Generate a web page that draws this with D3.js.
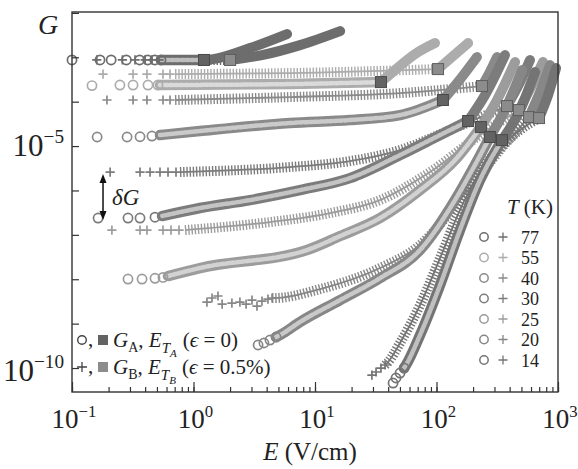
<!DOCTYPE html>
<html>
<head>
<meta charset="utf-8">
<script src="https://cdn.jsdelivr.net/npm/d3@7"></script>
<style>
  body { margin: 0; background: #fff; }
  svg text { font-family: "Liberation Serif", "Times New Roman", Times, serif; fill: #222; }
</style>
</head>
<body>
<svg width="578" height="469"></svg>
<script>
// temperatures, one shade per temperature
const temps = [77, 55, 40, 30, 25, 20, 14];
const shade = ["#6d6d6d", "#acacac", "#8a8a8a", "#7c7c7c", "#9c9c9c", "#878787", "#747474"];

// G_A (circles), [E (V/cm), G]
const markA = [
  [[0.10, 8.7e-4], [0.17, 8.7e-4], [0.21, 8.7e-4], [0.28, 8.7e-4], [0.36, 8.7e-4], [0.42, 8.7e-4], [0.48, 8.7e-4], [0.54, 8.7e-4]],
  [[0.146, 2.3e-4], [0.248, 2.37e-4], [0.318, 2.37e-4], [0.422, 2.37e-4], [0.51, 2.37e-4]],
  [[0.161, 1.6e-5], [0.284, 1.6e-5], [0.363, 1.62e-5], [0.455, 1.68e-5]],
  [[0.164, 2.39e-7], [0.289, 2.39e-7], [0.363, 2.39e-7], [0.482, 2.5e-7]],
  [[0.289, 1.01e-8], [0.377, 1.01e-8], [0.482, 1.05e-8], [0.561, 1.1e-8]],
  [[3.40, 3.3e-10], [3.80, 3.66e-10], [4.26, 4.27e-10], [4.78, 4.99e-10]],
  [[43.9, 4.59e-11], [46.4, 5.96e-11], [50.1, 7.7e-11], [54.1, 1.0e-10]]
];
const bandA = [
  [[0.54, 8.7e-4], [0.85, 8.7e-4], [1.22, 8.7e-4]],
  [[0.53, 2.37e-4], [6.23, 2.49e-4], [34.9, 2.76e-4]],
  [[0.53, 1.77e-5], [1.13, 2.18e-5], [6.23, 3.3e-5], [19.4, 3.86e-5], [50.1, 4.99e-5], [113, 1.09e-4]],
  [[0.551, 2.65e-7], [1.13, 4.02e-7], [2.92, 6.08e-7], [7.53, 1.02e-6], [19.4, 1.9e-6], [50.1, 6.27e-6], [107, 1.77e-5], [182, 3.66e-5]],
  [[0.617, 1.18e-8], [1.13, 1.79e-8], [8.6, 4.55e-8], [16.1, 9.4e-8], [34.3, 2.39e-7], [73.2, 1.02e-6], [142, 4.84e-6], [232, 2.68e-5]],
  [[4.78, 4.99e-10], [5.15, 5.53e-10], [7.53, 1.09e-9], [16.1, 3.4e-9], [34.3, 1.06e-8], [73.2, 4.55e-8], [142, 6.08e-7], [207, 3.73e-6], [275, 1.6e-5]],
  [[54.1, 1.0e-10], [56.1, 1.17e-10], [73.2, 5.53e-10], [107, 7.4e-9], [156, 1.28e-7], [228, 1.71e-6], [346, 1.36e-5]]
];
const thrA = [[1.22, 8.7e-4], [34.9, 2.76e-4], [113, 1.09e-4], [182, 3.66e-5], [232, 2.68e-5], [275, 1.6e-5], [346, 1.36e-5]];
const postA = [
  [[1.22, 8.7e-4], [1.45, 9.1e-4], [2.92, 1.61e-3], [5.89, 3.33e-3]],
  [[34.9, 2.76e-4], [45.5, 5.15e-4], [66.5, 1.18e-3], [97.2, 2.09e-3]],
  [[113, 1.09e-4], [150, 2.76e-4], [215, 1.01e-3]],
  [[182, 3.66e-5], [251, 1.41e-4], [366, 1.12e-3]],
  [[232, 2.68e-5], [315, 1.09e-4], [443, 7.8e-4]],
  [[275, 1.6e-5], [366, 6.47e-5], [506, 5.15e-4]],
  [[346, 1.36e-5], [487, 6.47e-5], [647, 4.65e-4]]
];

// G_B (plus)
const markB = [
  [[0.16, 8.7e-4], [0.26, 8.7e-4], [0.33, 8.7e-4], [0.40, 8.7e-4], [0.455, 8.7e-4], [0.52, 8.7e-4]],
  [[0.18, 4.19e-4], [0.318, 4.19e-4], [0.414, 4.19e-4], [0.561, 4.19e-4], [0.641, 4.19e-4]],
  [[0.194, 1.09e-4], [0.318, 1.09e-4], [0.414, 1.09e-4], [0.561, 1.09e-4], [0.641, 1.09e-4]],
  [[0.206, 2.6e-6], [0.363, 2.6e-6], [0.439, 2.6e-6], [0.53, 2.6e-6], [0.617, 2.6e-6], [0.718, 2.6e-6]],
  [[0.213, 1.28e-7], [0.363, 1.28e-7], [0.414, 1.28e-7], [0.561, 1.28e-7], [0.653, 1.28e-7], [0.76, 1.28e-7]],
  [[1.29, 3.06e-9], [1.42, 3.78e-9], [1.59, 4.19e-9], [1.72, 2.76e-9], [2.07, 2.91e-9], [2.41, 3.06e-9], [2.71, 2.76e-9], [3.03, 3.4e-9], [3.33, 2.49e-9], [3.66, 3.23e-9], [4.10, 3.58e-9], [4.43, 3.78e-9]],
  [[29.4, 6.95e-11], [31.8, 8.13e-11], [34.9, 1.0e-10], [37.7, 1.17e-10]]
];
const bandB = [
  [[0.52, 8.7e-4], [1.13, 8.7e-4], [2.0, 8.7e-4]],
  [[0.705, 4.19e-4], [6.23, 4.41e-4], [103, 5.42e-4]],
  [[0.705, 1.09e-4], [6.23, 1.27e-4], [50.1, 1.56e-4], [237, 2.25e-4]],
  [[0.774, 2.6e-6], [6.23, 3.37e-6], [19.4, 4.59e-6], [50.1, 8.13e-6], [129, 2.29e-5], [380, 7.96e-5]],
  [[0.851, 1.28e-7], [4.26, 1.94e-7], [13.3, 3.1e-7], [34.3, 6.08e-7], [88.4, 2.6e-6], [228, 1.77e-5], [477, 6.47e-5]],
  [[4.43, 3.78e-9], [4.69, 3.78e-9], [11.0, 6.0e-9], [34.3, 1.79e-8], [73.2, 5.89e-8], [156, 6.08e-7], [333, 8.13e-6], [577, 4.5e-5]],
  [[37.7, 1.17e-10], [39.9, 1.36e-10], [50.1, 3.66e-10], [73.2, 2.62e-9], [107, 3.0e-8], [156, 3.62e-7], [228, 2.6e-6], [333, 9.0e-6], [487, 2.29e-5], [698, 4.27e-5]]
];
const thrB = [[2.0, 8.7e-4], [103, 5.42e-4], [237, 2.25e-4], [380, 7.96e-5], [477, 6.47e-5], [577, 4.5e-5], [698, 4.27e-5]];
const postB = [
  [[2.0, 8.7e-4], [3.66, 1.12e-3], [7.53, 1.88e-3], [16.1, 3.89e-3]],
  [[103, 5.42e-4], [134, 1.01e-3], [182, 2.09e-3]],
  [[237, 2.25e-4], [275, 4.65e-4], [315, 1.01e-3]],
  [[380, 7.96e-5], [487, 2.76e-4], [588, 8.65e-4]],
  [[477, 6.47e-5], [611, 2.37e-4], [753, 7.8e-4]],
  [[577, 4.5e-5], [711, 1.64e-4], [860, 6.67e-4]],
  [[698, 4.27e-5], [828, 1.41e-4], [964, 5.71e-4]]
];

const xTickExp = ["−1", "0", "1", "2", "3"];

var svg = d3.select('svg');

var x = d3.scaleLog().domain([0.1, 1000]).range([72, 558]);
var y = d3.scaleLog().domain([Math.pow(10, -10.54), Math.pow(10, -1.98)]).range([392, 12]);

var line = d3.line()
    .x(d => x(d[0]))
    .y(d => y(d[1]))
    .curve(d3.curveMonotoneX);

var plot = svg.append('g');

// dense parts of the sweeps
temps.forEach((t, i) => {
    var c = shade[i];
    var pale = d3.interpolateRgb(c, '#fff')(0.55);

    plot.append('path').attr('d', line(bandB[i]))
        .attr('fill', 'none').attr('stroke', c)
        .attr('stroke-width', 10).attr('stroke-dasharray', '1.4 1.8');
    plot.append('path').attr('d', line(bandB[i]))
        .attr('fill', 'none').attr('stroke', c).attr('stroke-width', 1.8);

    plot.append('path').attr('d', line(bandA[i]))
        .attr('fill', 'none').attr('stroke', c)
        .attr('stroke-width', 10.5).attr('stroke-linecap', 'round');
    plot.append('path').attr('d', line(bandA[i]))
        .attr('fill', 'none').attr('stroke', pale)
        .attr('stroke-width', 4.5).attr('stroke-linecap', 'round')
        .attr('stroke-dasharray', '3 2');
});

// above threshold
temps.forEach((t, i) => {
    [postA[i], postB[i]].forEach(p => {
        plot.append('path').attr('d', line(p))
            .attr('fill', 'none').attr('stroke', shade[i])
            .attr('stroke-width', 10).attr('stroke-linecap', 'round');
    });
});

// sparse markers
temps.forEach((t, i) => {
    plot.selectAll(null).data(markA[i]).enter()
        .append('circle')
        .attr('cx', d => x(d[0]))
        .attr('cy', d => y(d[1]))
        .attr('r', 4.6)
        .attr('fill', 'none')
        .attr('stroke', shade[i])
        .attr('stroke-width', 1.7);
    plot.selectAll(null).data(markB[i]).enter()
        .append('path')
        .attr('transform', d => `translate(${x(d[0])},${y(d[1])})`)
        .attr('d', 'M-4.6,0H4.6M0,-4.6V4.6')
        .attr('stroke', shade[i])
        .attr('stroke-width', 1.7);
});

// thresholds E_T
plot.selectAll('.thrA').data(thrA).enter()
    .append('rect')
    .attr('x', d => x(d[0]) - 5.5).attr('y', d => y(d[1]) - 5.5)
    .attr('width', 11).attr('height', 11)
    .attr('fill', '#636363').attr('stroke', '#4a4a4a').attr('stroke-width', 1);
plot.selectAll('.thrB').data(thrB).enter()
    .append('rect')
    .attr('x', d => x(d[0]) - 5.5).attr('y', d => y(d[1]) - 5.5)
    .attr('width', 11).attr('height', 11)
    .attr('fill', '#8c8c8c').attr('stroke', '#5e5e5e').attr('stroke-width', 1);

// axes
var xAxis = d3.axisBottom(x).tickValues(x.ticks()).tickSize(-5).tickFormat('');
svg.append('g').attr('transform', 'translate(0,392)').call(xAxis)
    .call(g => g.select('.domain').remove());
var xAxisMajor = d3.axisBottom(x).tickValues([0.1, 1, 10, 100, 1000]).tickSize(-10).tickFormat('');
svg.append('g').attr('transform', 'translate(0,392)').call(xAxisMajor)
    .call(g => g.select('.domain').remove());

var yAxis = d3.axisLeft(y).tickValues(d3.range(-10, -1).map(k => Math.pow(10, k))).tickSize(-7).tickFormat('');
svg.append('g').attr('transform', 'translate(72,0)').call(yAxis)
    .call(g => g.select('.domain').remove());

svg.selectAll('.tick line').attr('stroke', '#333').attr('stroke-width', 1.2);

svg.append('rect')
    .attr('x', 72).attr('y', 12).attr('width', 486).attr('height', 380)
    .attr('fill', 'none').attr('stroke', '#333').attr('stroke-width', 1.4);

function pow10(sel, exp, fs) {
    sel.append('tspan').text('10');
    sel.append('tspan').attr('dy', -fs * 0.42).attr('font-size', fs * 0.62).text(exp);
}

[0.1, 1, 10, 100, 1000].forEach((v, i) => {
    svg.append('text')
        .attr('x', x(v) + 2).attr('y', 428)
        .attr('text-anchor', 'middle')
        .style('font-size', '27px')
        .call(pow10, xTickExp[i], 27);
});

[[-5, '−5', 156], [-10, '−10', 381]].forEach(d => {
    svg.append('text')
        .attr('x', 64).attr('y', d[2])
        .attr('text-anchor', 'end')
        .style('font-size', '31px')
        .call(pow10, d[1], 31);
});

// axis titles
var xt = svg.append('text').attr('x', 310).attr('y', 460)
    .attr('text-anchor', 'middle').style('font-size', '25px');
xt.append('tspan').style('font-style', 'italic').text('E');
xt.append('tspan').text(' (V/cm)');

svg.append('text').attr('x', 38).attr('y', 34)
    .style('font-size', '28px').style('font-style', 'italic').text('G');

// delta G arrow
var ax = x(0.18), ay1 = y(markB[3][0][1]) + 2, ay2 = y(markA[3][0][1]) + 2;
svg.append('line').attr('x1', ax).attr('x2', ax).attr('y1', ay1 + 4).attr('y2', ay2 - 4)
    .attr('stroke', '#111').attr('stroke-width', 1.5);
svg.append('path').attr('d', `M${ax},${ay1}l-3.5,9h7z`).attr('fill', '#111');
svg.append('path').attr('d', `M${ax},${ay2}l-3.5,-9h7z`).attr('fill', '#111');
svg.append('text').attr('x', 112).attr('y', 205)
    .style('font-size', '23px').style('font-style', 'italic').text('δG');

// temperature legend
svg.append('text').attr('x', 553).attr('y', 214).attr('text-anchor', 'end')
    .style('font-size', '21px')
    .call(s => {
        s.append('tspan').style('font-style', 'italic').text('T');
        s.append('tspan').text(' (K)');
    });
temps.forEach((t, i) => {
    var ly = 237 + i * 20.5;
    svg.append('circle').attr('cx', 484).attr('cy', ly).attr('r', 4.2)
        .attr('fill', 'none').attr('stroke', shade[i]).attr('stroke-width', 1.5);
    svg.append('path').attr('transform', `translate(503,${ly})`)
        .attr('d', 'M-4.5,0H4.5M0,-4.5V4.5')
        .attr('stroke', shade[i]).attr('stroke-width', 1.3);
    svg.append('text').attr('x', 521).attr('y', ly + 6.5).style('font-size', '18px').text(t);
});

// symbol legend
function legendRow(cy, isA, eps) {
    if (isA) {
        svg.append('circle').attr('cx', 82).attr('cy', cy).attr('r', 4.3)
            .attr('fill', 'none').attr('stroke', '#444').attr('stroke-width', 1.4);
    } else {
        svg.append('path').attr('transform', `translate(82,${cy})`)
            .attr('d', 'M-5,0H5M0,-5V5').attr('stroke', '#444').attr('stroke-width', 1.3);
    }
    svg.append('text').attr('x', 88).attr('y', cy + 6).style('font-size', '21px').text(',');
    svg.append('rect').attr('x', 98).attr('y', cy - 5).attr('width', 10).attr('height', 10)
        .attr('fill', isA ? '#636363' : '#8c8c8c');
    var sub = isA ? 'A' : 'B';
    var t = svg.append('text').attr('x', 113).attr('y', cy + 7).style('font-size', '21px');
    t.append('tspan').style('font-style', 'italic').text('G');
    t.append('tspan').attr('dy', 5).style('font-size', '14px').text(sub);
    t.append('tspan').attr('dy', -5).text(', ');
    t.append('tspan').style('font-style', 'italic').text('E');
    t.append('tspan').attr('dy', 6).style('font-size', '15px').style('font-style', 'italic').text('T');
    t.append('tspan').attr('dy', 4).style('font-size', '11px').style('font-style', 'italic').text(sub);
    t.append('tspan').attr('dy', -10).attr('dx', 6).text('(');
    t.append('tspan').style('font-style', 'italic').text('ϵ');
    t.append('tspan').text(' = ' + eps + ')');
}
legendRow(340, true, '0');
legendRow(367, false, '0.5%');
</script>
</body>
</html>
